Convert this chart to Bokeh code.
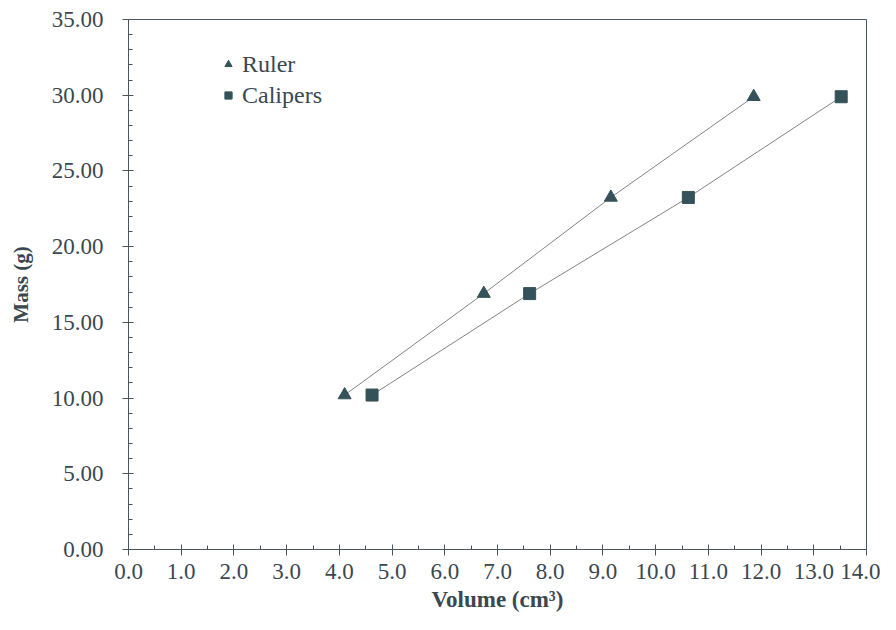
from bokeh.plotting import figure
from bokeh.models import Range1d, FixedTicker, PrintfTickFormatter, Legend, LegendItem
from bokeh.embed import file_html
from bokeh.resources import INLINE

# Data
ruler_volume = [4.10, 6.74, 9.15, 11.86]
ruler_mass = [10.20, 16.90, 23.25, 29.90]
calipers_volume = [4.62, 7.61, 10.62, 13.52]
calipers_mass = [10.20, 16.90, 23.25, 29.90]
x_major = [0, 1, 2, 3, 4, 5, 6, 7, 8, 9, 10, 11, 12, 13, 14]
x_minor = [v + 0.5 for v in range(14)]
y_major = [0, 5, 10, 15, 20, 25, 30, 35]
y_minor = list(range(36))

FONT = "Liberation Serif"
TXT = "#3b4850"
MARK = "#35525b"
AX = "#4a555c"

p = figure(width=880, height=614, output_backend="svg", toolbar_location=None,
           x_range=Range1d(0, 14), y_range=Range1d(0, 35),
           min_border_left=128, min_border_right=14, min_border_top=19, min_border_bottom=62)
p.background_fill_color = "white"
p.border_fill_color = "white"
p.outline_line_color = AX
p.outline_line_width = 1
p.xgrid.visible = False
p.ygrid.visible = False

for ax in (p.xaxis[0], p.yaxis[0]):
    ax.axis_line_color = AX
    ax.major_tick_line_color = AX
    ax.minor_tick_line_color = AX
    ax.major_tick_in = 5
    ax.major_tick_out = 6
    ax.minor_tick_in = 4
    ax.minor_tick_out = 0
    ax.major_label_text_font = FONT
    ax.major_label_text_font_size = "23px"
    ax.major_label_text_color = TXT
    ax.axis_label_text_font = FONT
    ax.axis_label_text_font_style = "bold"
    ax.axis_label_text_color = TXT

p.xaxis[0].axis_label_text_font_size = "23px"
p.yaxis[0].axis_label_text_font_size = "21px"
p.xaxis[0].ticker = FixedTicker(ticks=x_major, minor_ticks=x_minor)
p.yaxis[0].ticker = FixedTicker(ticks=y_major, minor_ticks=y_minor)
p.xaxis[0].formatter = PrintfTickFormatter(format="%.1f")
p.yaxis[0].formatter = PrintfTickFormatter(format="%.2f")
p.xaxis[0].major_label_standoff = 8
p.yaxis[0].major_label_standoff = 19
p.xaxis[0].axis_label = "Volume (cm\u00b3)"
p.yaxis[0].axis_label = "Mass (g)"
p.xaxis[0].axis_label_standoff = 5
p.yaxis[0].axis_label_standoff = 16

p.line(ruler_volume, ruler_mass, line_color="#808589", line_width=1)
p.line(calipers_volume, calipers_mass, line_color="#808589", line_width=1)
r1 = p.scatter(ruler_volume, ruler_mass, marker="triangle", size=13,
               fill_color=MARK, line_color=MARK)
r2 = p.scatter(calipers_volume, calipers_mass, marker="square", size=12,
               fill_color=MARK, line_color=MARK)

legend = Legend(items=[LegendItem(label="Ruler", renderers=[r1]),
                       LegendItem(label="Calipers", renderers=[r2])],
                location=(91, 440), padding=0, margin=0, spacing=3,
                glyph_width=18, glyph_height=18, label_height=28, label_standoff=5,
                label_text_font=FONT, label_text_font_size="24px",
                label_text_color=TXT, border_line_color=None,
                background_fill_alpha=0)
p.add_layout(legend, "center")

open("out.html", "w").write(file_html(p, INLINE))
